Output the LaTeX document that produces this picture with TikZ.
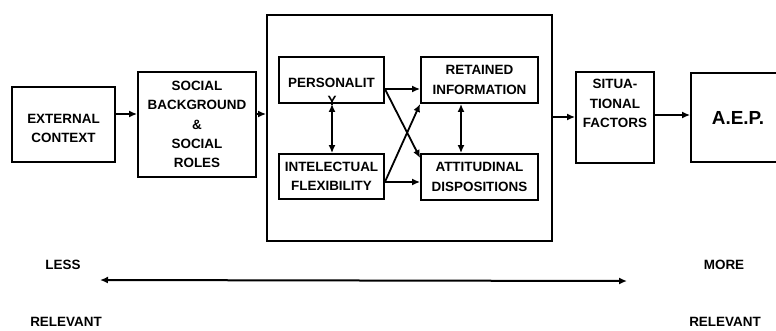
\documentclass[tikz,border=0pt]{standalone}
\usepackage{fontspec}
\setmainfont{Liberation Sans}
\usetikzlibrary{arrows.meta}
\begin{document}
\begin{tikzpicture}[x=1bp,y=-1bp,
  every node/.style={font=\bfseries\fontsize{13.5}{19.5}\selectfont, align=center, inner sep=0pt},
  box/.style={draw, line width=1.8bp},
  tip/.tip={Latex[length=8bp,width=7bp]},
  link/.style={line width=1.8bp, -tip},
  both/.style={line width=1.6bp, tip-tip},
  big/.style={font=\bfseries\fontsize{19}{20}\selectfont},
]
\useasboundingbox (0,0) rectangle (776,330);
\clip (0,0) rectangle (776,330);

% outer chain
\node[box, minimum width=103bp, minimum height=75bp] (ext) at (63.5,124.5) {};
\node (exttxt) at ([yshift=-4bp]ext.center) {EXTERNAL\\CONTEXT};
\node[box, minimum width=118bp, minimum height=105bp] (soc) at (197,124.5) {SOCIAL\\BACKGROUND\\\&\\SOCIAL\\ROLES};
\node[box, minimum width=285bp, minimum height=226bp] (core) at (409.5,128) {};
\node[box, minimum width=78bp, minimum height=91bp] (sit) at (615,117.5) {};
\node[anchor=north] (sittxt) at ([yshift=-8bp]sit.north) {SITUA-\\TIONAL\\FACTORS};
\node[box, big, minimum width=94bp, minimum height=89bp] (aep) at (738,117.5) {A.E.P.};

% inner boxes
\node[box, minimum width=105bp, minimum height=46bp] (pers) at (331.5,80) {};
\node (perstxt) at ([yshift=-3bp]pers.center) {PERSONALIT};
\node (py) at (332,101) {Y};
\node[box, minimum width=105bp, minimum height=45bp] (intel) at (331.5,176.5) {INTELECTUAL\\FLEXIBILITY};
\node[box, minimum width=117bp, minimum height=46bp] (ret) at (479.5,80) {RETAINED\\INFORMATION};
\node[box, minimum width=117bp, minimum height=46bp] (att) at (479.5,177) {ATTITUDINAL\\DISPOSITIONS};

% connectors
\draw[link] (ext.east |- 0,114) -- (soc.west |- 0,114);
\draw[link] (soc.east |- 0,114) -- (core.west |- 0,114);
\draw[link] (core.east |- 0,117) -- (sit.west |- 0,117);
\draw[link] (sit.east |- 0,115) -- (aep.west |- 0,115);

\draw[link] (pers.east |- 0,89) -- (ret.west |- 0,89);
\draw[link] (intel.east |- 0,182) -- (att.west |- 0,182);
\draw[link] (pers.east |- 0,89) -- (att.west |- 0,158);
\draw[link] (intel.east |- 0,182) -- (ret.south west);

\draw[both] (pers.south -| 332,0) -- (intel.north -| 332,0);
\draw[both] (ret.south -| 461,0) -- (att.north -| 461,0);

% relevance scale
\coordinate (lo) at (100,280);
\coordinate (hi) at (627,281);
\draw[both, line width=2bp] (lo) -- (hi);
\node (less) at (63,265) {LESS};
\node (lrel) at (66,322) {RELEVANT};
\node (more) at (724,265) {MORE};
\node (mrel) at (725,322) {RELEVANT};
\end{tikzpicture}
\end{document}
